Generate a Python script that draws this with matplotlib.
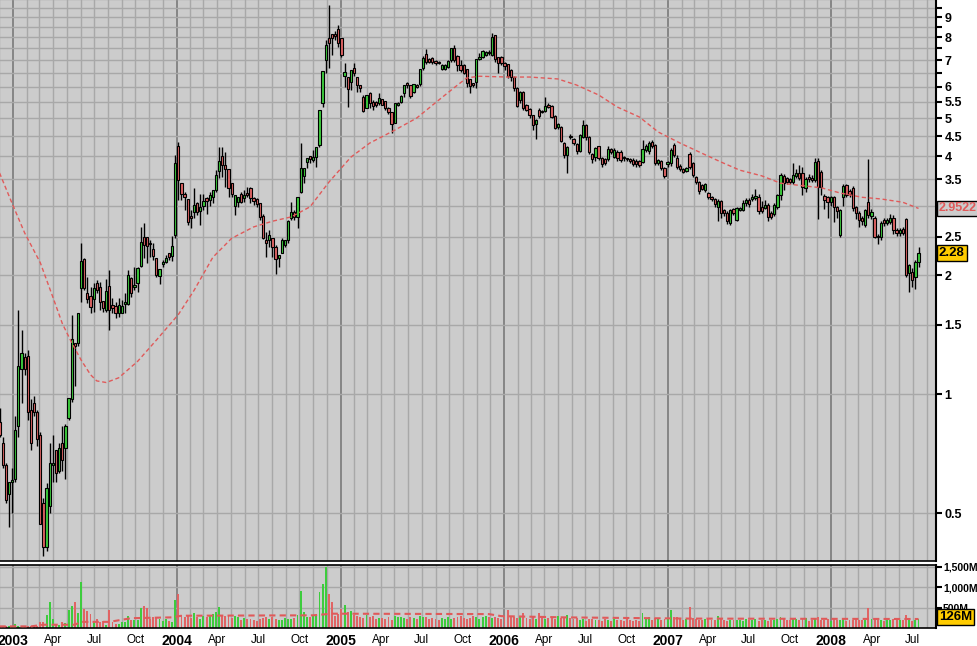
import numpy as np
import pandas as pd
import matplotlib
matplotlib.use("Agg")
import matplotlib.pyplot as plt
import matplotlib.dates as mdates
from matplotlib.ticker import NullLocator

# weekly candles, Dec 2002 - Jul 2008
opens = [.85, .75, .66, .56, .60, .61, .83, 1.16, 1.24, 1.25, .91, .95, .90, .79, .53, .41, .52, .66, .72, .64,
         .75, .73, .87, .97, 1.35, 1.35, 1.86, 2.20, 1.80, 1.77, 1.74, 1.91, 1.87, 1.72, 1.63, 1.88, 1.68, 1.67, 1.60, 1.60,
         1.69, 1.69, 1.97, 1.87, 1.91, 2.11, 2.50, 2.50, 2.41, 2.33, 2.21, 1.99, 2.13, 2.16, 2.28, 2.24, 2.53, 4.25, 3.42, 3.21,
         3.12, 2.82, 2.89, 3.05, 2.90, 2.99, 3.13, 3.10, 3.15, 3.29, 3.67, 4.00, 3.80, 3.71, 3.42, 3.00, 3.07, 3.22, 3.13, 3.23,
         3.33, 3.13, 3.12, 3.05, 2.82, 2.45, 2.45, 2.48, 2.36, 2.21, 2.27, 2.38, 2.45, 2.79, 2.89, 2.81, 3.25, 3.56, 3.87, 4.00,
         3.91, 3.98, 4.27, 5.46, 7.01, 7.97, 8.16, 8.11, 8.40, 7.97, 6.38, 6.35, 6.17, 6.70, 6.35, 6.06, 5.65, 5.30, 5.79, 5.49,
         5.49, 5.46, 5.58, 5.52, 5.30, 5.18, 4.86, 5.39, 5.49, 5.79, 6.13, 6.06, 5.83, 6.06, 6.10, 6.70, 7.28, 7.06, 7.10, 6.99,
         6.95, 6.65, 6.65, 6.73, 7.01, 7.52, 7.18, 6.81, 6.81, 6.65, 6.28, 6.13, 6.17, 7.06, 7.14, 7.22, 7.35, 7.22, 8.11, 7.14,
         7.14, 6.88, 6.85, 6.61, 6.35, 5.96, 5.55, 5.83, 5.39, 5.27, 5.09, 4.83, 5.24, 5.21, 5.21, 5.39, 5.36, 5.06, 4.75, 4.75,
         4.32, 4.03, 4.49, 4.43, 4.30, 4.12, 4.48, 4.80, 4.48, 4.05, 3.98, 4.25, 3.96, 3.94, 3.94, 4.17, 3.98, 4.10, 4.10, 3.96,
         3.94, 3.94, 3.91, 3.89, 3.89, 3.87, 4.15, 4.12, 4.35, 4.27, 3.85, 3.89, 3.73, 3.82, 3.85, 4.27, 3.96, 3.78, 3.71, 3.67,
         4.05, 3.85, 3.54, 3.44, 3.38, 3.29, 3.23, 3.15, 3.12, 2.98, 3.08, 2.92, 2.87, 2.71, 2.94, 2.76, 2.92, 2.92, 3.05, 3.10,
         3.12, 3.14, 3.15, 2.98, 2.96, 3.01, 2.87, 2.85, 2.98, 3.19, 3.56, 3.52, 3.50, 3.44, 3.56, 3.63, 3.63, 3.33, 3.52, 3.52,
         3.48, 3.89, 3.66, 3.17, 3.15, 3.06, 3.15, 2.98, 2.53, 3.16, 3.38, 3.27, 3.33, 2.98, 2.87, 2.80, 2.68, 3.06, 2.83, 2.80,
         2.51, 2.50, 2.76, 2.71, 2.73, 2.79, 2.61, 2.56, 2.62, 2.78, 2.03, 2.04, 1.98, 2.16]
highs = [.92, .78, .67, .60, .65, .88, 1.63, 1.45, 1.27, 1.29, .97, .99, .91, .80, .545, .595, .75, .79, .72, .75,
         .83, .84, .98, 1.59, 1.35, 1.60, 2.41, 2.21, 1.98, 1.87, 1.91, 1.94, 1.92, 1.72, 1.96, 2.06, 1.75, 1.71, 1.75, 1.73,
         1.80, 2.06, 1.98, 2.10, 2.10, 2.65, 2.71, 2.50, 2.45, 2.41, 2.21, 2.07, 2.18, 2.25, 2.28, 2.51, 4.03, 4.35, 3.42, 3.25,
         3.12, 2.92, 3.33, 3.07, 3.22, 3.22, 3.15, 3.24, 3.29, 3.69, 4.23, 4.23, 4.10, 3.71, 3.42, 3.19, 3.16, 3.24, 3.29, 3.35,
         3.35, 3.16, 3.13, 3.05, 2.86, 2.58, 2.60, 2.48, 2.38, 2.25, 2.48, 2.45, 2.76, 3.07, 2.92, 3.15, 4.32, 3.73, 3.96, 4.00,
         4.15, 4.22, 5.24, 6.57, 7.88, 9.66, 8.16, 8.30, 8.60, 7.97, 6.88, 6.35, 6.61, 6.88, 6.35, 6.06, 5.72, 5.72, 5.83, 5.55,
         5.52, 5.79, 5.58, 5.52, 5.32, 5.18, 5.46, 5.50, 5.72, 6.06, 6.17, 6.06, 6.10, 6.08, 6.65, 7.18, 7.48, 7.10, 7.14, 7.03,
         6.99, 6.84, 6.85, 7.03, 7.52, 7.65, 7.20, 7.01, 6.85, 6.65, 6.28, 6.15, 7.06, 7.30, 7.45, 7.40, 7.45, 8.20, 8.11, 7.14,
         7.16, 6.92, 6.85, 6.65, 6.38, 5.99, 5.85, 5.85, 5.42, 5.30, 5.10, 4.98, 5.30, 5.25, 5.65, 5.45, 5.39, 5.09, 4.85, 4.78,
         4.35, 4.25, 4.55, 4.45, 4.32, 4.55, 4.95, 4.82, 4.50, 4.07, 4.22, 4.25, 3.98, 3.96, 4.25, 4.20, 4.20, 4.15, 4.15, 4.00,
         3.97, 3.96, 3.96, 3.93, 3.91, 4.40, 4.30, 4.38, 4.40, 4.30, 3.93, 3.91, 3.75, 3.90, 4.20, 4.32, 4.02, 3.82, 3.74, 3.76,
         4.10, 3.87, 3.56, 3.46, 3.40, 3.42, 3.25, 3.18, 3.14, 3.12, 3.10, 2.94, 2.90, 2.95, 2.96, 2.98, 2.98, 3.10, 3.14, 3.13,
         3.22, 3.30, 3.22, 3.08, 3.10, 3.05, 2.90, 3.05, 3.22, 3.62, 3.60, 3.55, 3.52, 3.85, 3.72, 3.80, 3.75, 3.55, 3.60, 3.58,
         3.95, 3.96, 3.70, 3.22, 3.18, 3.18, 3.18, 3.00, 2.94, 3.40, 3.40, 3.30, 3.36, 3.00, 2.90, 2.82, 2.95, 3.93, 2.95, 2.82,
         2.55, 2.75, 2.80, 2.80, 2.85, 2.84, 2.64, 2.64, 2.65, 2.80, 2.14, 2.08, 2.18, 2.36]
lows = [.78, .65, .53, .46, .50, .60, .78, .95, 1.12, .86, .72, .88, .74, .47, .39, .40, .50, .60, .60, .63,
        .64, .61, .86, .955, 1.05, 1.32, 1.71, 1.83, 1.70, 1.60, 1.61, 1.80, 1.63, 1.61, 1.61, 1.45, 1.60, 1.56, 1.57, 1.60,
        1.60, 1.68, 1.76, 1.83, 1.81, 2.10, 2.21, 2.15, 2.22, 2.18, 1.98, 1.90, 2.10, 2.15, 2.18, 2.17, 2.48, 3.10, 3.10, 2.92,
        2.68, 2.63, 2.79, 2.84, 2.68, 2.92, 2.85, 2.99, 3.05, 3.24, 3.53, 3.55, 3.35, 3.16, 3.16, 2.84, 2.98, 3.05, 3.07, 3.16,
        3.05, 3.01, 2.98, 2.76, 2.47, 2.22, 2.36, 2.22, 2.02, 2.10, 2.27, 2.36, 2.41, 2.76, 2.76, 2.63, 3.23, 3.42, 3.73, 3.85,
        3.87, 3.76, 4.22, 5.34, 6.52, 6.70, 7.22, 7.88, 7.56, 7.14, 5.99, 5.34, 5.89, 6.40, 5.83, 5.83, 5.18, 5.30, 5.30, 5.24,
        5.33, 5.39, 5.39, 5.24, 5.12, 4.58, 4.86, 5.36, 5.46, 5.65, 5.95, 5.62, 5.79, 5.95, 6.04, 6.60, 6.85, 6.88, 6.85, 6.80,
        6.84, 6.60, 6.60, 6.70, 6.95, 6.95, 6.57, 6.55, 6.45, 5.99, 5.79, 6.00, 5.96, 7.00, 7.10, 7.18, 7.20, 7.18, 6.95, 6.52,
        6.80, 6.60, 6.30, 6.20, 5.85, 5.33, 5.46, 5.24, 5.20, 5.00, 4.65, 4.43, 5.00, 5.15, 5.18, 5.30, 5.00, 4.68, 4.70, 4.34,
        3.95, 3.63, 4.43, 4.28, 4.05, 4.10, 4.45, 4.40, 4.05, 3.85, 3.90, 3.92, 3.75, 3.80, 3.90, 4.05, 3.95, 3.90, 3.88, 3.90,
        3.90, 3.85, 3.78, 3.75, 3.76, 3.85, 4.10, 4.05, 4.20, 3.80, 3.80, 3.70, 3.52, 3.75, 3.78, 3.98, 3.72, 3.68, 3.62, 3.64,
        3.72, 3.55, 3.40, 3.22, 3.28, 3.25, 3.12, 3.08, 2.98, 2.75, 2.80, 2.82, 2.70, 2.68, 2.84, 2.74, 2.90, 2.90, 3.00, 2.98,
        3.08, 3.10, 2.85, 2.88, 2.94, 2.75, 2.78, 2.82, 2.95, 3.10, 3.28, 3.40, 3.40, 3.40, 3.52, 3.48, 3.20, 3.25, 3.45, 3.44,
        3.45, 2.78, 3.20, 2.95, 2.80, 3.00, 2.72, 2.80, 2.50, 3.00, 3.15, 3.15, 2.90, 2.78, 2.65, 2.68, 2.65, 2.80, 2.78, 2.48,
        2.40, 2.45, 2.66, 2.68, 2.70, 2.55, 2.52, 2.52, 2.53, 1.98, 1.81, 1.87, 1.85, 2.10]
closes = [.79, .66, .54, .60, .60, .81, 1.18, 1.27, 1.16, .90, .75, .90, .77, .47, .41, .58, .67, .67, .63, .73,
          .68, .83, .98, 1.38, 1.32, 1.60, 2.17, 1.86, 1.74, 1.66, 1.855, 1.84, 1.71, 1.65, 1.82, 1.63, 1.65, 1.60, 1.68, 1.67,
          1.71, 2.00, 1.80, 1.89, 2.09, 2.43, 2.38, 2.37, 2.40, 2.24, 2.00, 2.07, 2.16, 2.21, 2.22, 2.37, 3.85, 3.48, 3.21, 3.15,
          2.73, 2.79, 3.01, 2.89, 2.97, 3.08, 3.08, 3.19, 3.29, 3.59, 3.89, 3.80, 3.72, 3.33, 3.21, 3.19, 3.16, 3.07, 3.19, 3.19,
          3.13, 3.08, 3.03, 2.81, 2.49, 2.42, 2.53, 2.36, 2.20, 2.25, 2.45, 2.45, 2.74, 2.89, 2.81, 3.15, 3.73, 3.73, 3.96, 3.94,
          3.98, 4.22, 5.24, 6.57, 7.65, 7.74, 7.97, 8.08, 7.74, 7.22, 6.54, 5.93, 6.61, 6.50, 6.06, 5.96, 5.21, 5.72, 5.46, 5.36,
          5.39, 5.62, 5.39, 5.30, 5.18, 4.83, 5.46, 5.46, 5.69, 6.06, 6.06, 5.69, 6.10, 6.00, 6.65, 7.10, 6.92, 6.95, 6.95, 6.88,
          6.88, 6.80, 6.81, 6.99, 7.52, 7.01, 6.81, 6.61, 6.50, 6.13, 6.03, 6.06, 7.06, 7.10, 7.39, 7.35, 7.30, 8.03, 7.05, 6.88,
          6.88, 6.77, 6.38, 6.35, 5.96, 5.36, 5.83, 5.30, 5.24, 5.09, 4.80, 4.94, 5.06, 5.18, 5.36, 5.33, 5.03, 4.72, 4.83, 4.37,
          4.03, 4.22, 4.48, 4.32, 4.12, 4.53, 4.80, 4.48, 4.10, 3.94, 4.20, 3.96, 3.82, 3.85, 4.17, 4.10, 4.15, 3.96, 3.91, 3.95,
          3.93, 3.89, 3.82, 3.82, 3.80, 4.17, 4.25, 4.32, 4.25, 3.85, 3.91, 3.73, 3.56, 3.87, 4.15, 4.03, 3.76, 3.72, 3.65, 3.73,
          3.76, 3.59, 3.44, 3.27, 3.31, 3.40, 3.15, 3.12, 3.03, 3.08, 2.87, 2.87, 2.74, 2.92, 2.87, 2.96, 2.96, 3.05, 3.10, 3.03,
          3.15, 3.16, 2.90, 2.90, 3.01, 2.81, 2.81, 3.01, 3.19, 3.59, 3.42, 3.44, 3.44, 3.59, 3.62, 3.52, 3.34, 3.50, 3.51, 3.48,
          3.87, 3.34, 3.34, 3.10, 3.06, 3.15, 2.98, 2.90, 2.92, 3.36, 3.19, 3.21, 2.96, 2.87, 2.76, 2.74, 2.92, 2.84, 2.89, 2.50,
          2.50, 2.71, 2.71, 2.76, 2.79, 2.60, 2.56, 2.61, 2.56, 2.00, 2.12, 1.94, 2.16, 2.28]
# weekly volume, millions of shares
volumes = [40, 40, 40, 50, 40, 90, 60, 50, 40, 50, 60, 40, 50,
           150, 150, 320, 630, 220, 70, 80, 150, 120, 430, 530, 630, 370, 1120, 460, 410, 340,
           150, 220, 150, 170, 80, 440, 150, 100, 100, 150, 150, 290, 190, 190, 190, 500, 530, 500, 230, 260,
           260, 230, 160, 230, 160, 150, 680, 830,
           310, 280, 300, 250, 370, 270, 220, 300, 260, 300, 340, 380,
           510, 330, 300, 320, 250, 300, 280, 200, 240, 210,
           230, 200, 180, 220, 240, 280, 230, 260, 220, 200, 190, 240, 210, 230, 250,
           330, 900, 400, 280, 260, 300, 330, 880, 1070, 1500, 830, 630, 300, 350, 460, 560, 400, 420, 330, 300, 280,
           250, 330, 280, 300, 230, 250, 240, 220, 260, 200, 300, 280, 260, 240, 220, 270, 250, 230, 300, 260,
           280, 230, 240, 210, 200, 250, 230, 260, 220, 240, 270, 300, 250, 220, 240, 300, 260, 220, 280, 300,
           260, 250, 280, 240, 230, 300, 430, 280, 260, 250, 260, 360, 240, 230,
           260, 230, 360, 250, 220, 240, 260, 230, 300, 240, 270, 330, 250, 230, 240,
           200, 220, 180, 230, 210, 190, 200, 180, 220, 200, 170, 230, 190, 200, 180, 210, 190, 170, 200, 180,
           360, 220, 260, 200, 250, 230, 190, 210, 240, 430, 260, 280, 250, 200, 230,
           520, 240, 230, 200, 190, 210, 240, 200, 190, 300, 210, 190, 180, 200, 190,
           190, 200, 180, 210, 190, 200, 220, 180, 190, 200, 170, 190, 200, 210, 260, 220, 190, 200, 230, 210,
           200, 220, 250, 180, 200, 230, 260, 200, 190, 210, 180, 220, 190, 200, 210, 180, 200, 190, 210, 200,
           190, 200, 490, 210, 220, 200, 190, 180, 200, 190, 210, 230, 200, 190, 310, 240, 180, 200, 210]

# 40-week moving average of price, sampled off the chart (week index, value)
ma_weeks = [0, 4, 8, 13, 17, 20, 23, 26, 29, 31, 34, 38, 44, 50, 57, 62, 68, 74, 81, 87, 93, 99, 105, 112, 118, 126,
            133, 140, 146, 149, 153, 162, 169, 178, 184, 191, 197, 204, 210, 217, 224, 230, 236, 243, 249, 256, 262,
            268, 275, 281, 288, 293]
ma_values = [3.63, 3.04, 2.56, 2.15, 1.76, 1.51, 1.35, 1.22, 1.12, 1.08, 1.07, 1.10, 1.21, 1.37, 1.59, 1.83, 2.22,
             2.48, 2.65, 2.74, 2.81, 2.98, 3.44, 3.98, 4.32, 4.66, 5.00, 5.55, 6.06, 6.32, 6.38, 6.35, 6.35, 6.28, 6.06,
             5.72, 5.33, 5.03, 4.61, 4.32, 4.07, 3.87, 3.69, 3.57, 3.42, 3.37, 3.33, 3.23, 3.15, 3.12, 3.06, 2.9522]
vol_ma_weeks = [0, 10, 14, 24, 26, 35, 42, 55, 58, 100, 106, 156, 160, 180, 220, 293]
vol_ma_values = [40, 40, 80, 80, 150, 150, 240, 260, 300, 310, 350, 340, 290, 260, 230, 220]

price_ticks = [0.5, 1, 1.5, 2, 2.5, 3, 3.5, 4, 4.5, 5, 5.5, 6, 6.5, 7, 7.5, 8, 8.5, 9, 9.5]
price_labels = ["0.5", "1", "1.5", "2", "2.5", "3", "3.5", "4", "4.5", "5", "5.5", "6", "", "7", "", "8", "", "9", ""]
vol_ticks = [500, 1000, 1500]
vol_labels = ["500M", "1,000M", "1,500M"]

plt.rcParams["font.family"] = ["Liberation Sans", "DejaVu Sans"]

GREEN = "#3dcc3d"
RED = "#e06464"
BG = "#cccccc"
GRID = "#a8a8a8"
YEARGRID = "#7a7a7a"

dates = pd.date_range("2002-12-02", periods=len(closes), freq="7D")
x = mdates.date2num(dates)
o = np.array(opens)
c = np.array(closes)
up = c >= o
colors = np.where(up, GREEN, RED)

W, H = 978, 646
fig = plt.figure(figsize=(W / 100, H / 100), dpi=100, facecolor="white")
ax = fig.add_axes([0, (H - 561) / H, 936 / W, 561 / H])
vax = fig.add_axes([0, (H - 628) / H, 936 / W, 63 / H], sharex=ax)

xmin = mdates.date2num(pd.Timestamp("2002-12-03"))
xmax = mdates.date2num(pd.Timestamp("2008-08-22"))
months = pd.date_range("2002-12-01", "2008-08-01", freq="MS")

for a in (ax, vax):
    a.set_facecolor(BG)
    for m in months:
        a.axvline(mdates.date2num(m), color=YEARGRID if m.month == 1 else GRID, lw=1.2 if m.month == 1 else 1, zorder=0)
    a.spines["left"].set_visible(False)
    a.spines["right"].set_linewidth(1.5)
    a.spines["bottom"].set_linewidth(1.2)
    a.spines["top"].set_linewidth(1.2)
    a.yaxis.tick_right()
ax.spines["top"].set_visible(False)

# price panel
ax.set_yscale("log")
ax.set_ylim(0.378, 9.95)
ax.set_xlim(xmin, xmax)
for lvl in np.arange(0.5, 10.01, 0.5):
    ax.axhline(lvl, color=GRID, lw=1, zorder=0)

ax.vlines(x, lows, highs, color="black", lw=1, zorder=2)
body_lo = np.minimum(o, c)
body_h = np.maximum(np.abs(c - o), o * 0.008)
ax.bar(x, body_h, bottom=body_lo, width=5.0, color=colors, edgecolor="black", linewidth=0.8, zorder=3)
ax.plot(x[ma_weeks], ma_values, color="#e05a5a", lw=1, ls=(0, (3, 2)), zorder=4)

ax.set_yticks(price_ticks)
ax.set_yticklabels(price_labels)
ax.yaxis.set_minor_locator(NullLocator())
ax.tick_params(axis="y", direction="out", length=4, width=1.5, pad=2, labelsize=9)
for t in ax.get_yticklabels():
    t.set_fontweight("bold")
ax.tick_params(axis="x", bottom=False, labelbottom=False)

box = dict(boxstyle="square,pad=0.15", lw=1, ec="black")
ax.text(1.003, ma_values[-1], f"{ma_values[-1]:.4f}", transform=ax.get_yaxis_transform(), va="center", ha="left",
        fontsize=9, fontweight="bold", color="#e05a5a", bbox=dict(box, fc=BG), zorder=10, clip_on=False)
ax.text(1.003, closes[-1], f"{closes[-1]:.2f}", transform=ax.get_yaxis_transform(), va="center", ha="left",
        fontsize=9.5, fontweight="bold", color="black", bbox=dict(box, fc="#ffcc00"), zorder=10, clip_on=False)

# volume panel
vax.set_ylim(0, 1540)
for lvl in vol_ticks:
    vax.axhline(lvl, color=GRID, lw=1, zorder=0)
vax.bar(x, volumes, width=4.3, color=colors, zorder=2)
vax.plot(x[vol_ma_weeks], vol_ma_values, color="#e05a5a", lw=1.5, ls=(0, (3, 2)), zorder=3)
vax.set_yticks(vol_ticks)
vax.set_yticklabels(vol_labels)
vax.yaxis.set_minor_locator(NullLocator())
vax.tick_params(axis="y", direction="out", length=4, width=1.5, pad=1, labelsize=7.5)
for t in vax.get_yticklabels():
    t.set_fontweight("bold")
vax.text(1.003, 126, "126M", transform=vax.get_yaxis_transform(), va="bottom", ha="left",
         fontsize=9.5, fontweight="bold", color="black", bbox=dict(box, fc="#ffcc00"), zorder=10, clip_on=False)

tick_dates = [m for m in months if m.month in (1, 4, 7, 10) and m.year >= 2003]
vax.set_xticks([mdates.date2num(m) for m in tick_dates])
vax.set_xticklabels([str(m.year) if m.month == 1 else m.strftime("%b") for m in tick_dates])
vax.tick_params(axis="x", length=0, pad=4, labelsize=8.5)
for t, m in zip(vax.get_xticklabels(), tick_dates):
    if m.month == 1:
        t.set_fontweight("bold")
        t.set_fontsize(10)
vax.set_xlim(xmin, xmax)

fig.savefig("out.png", dpi=100, facecolor="white")
